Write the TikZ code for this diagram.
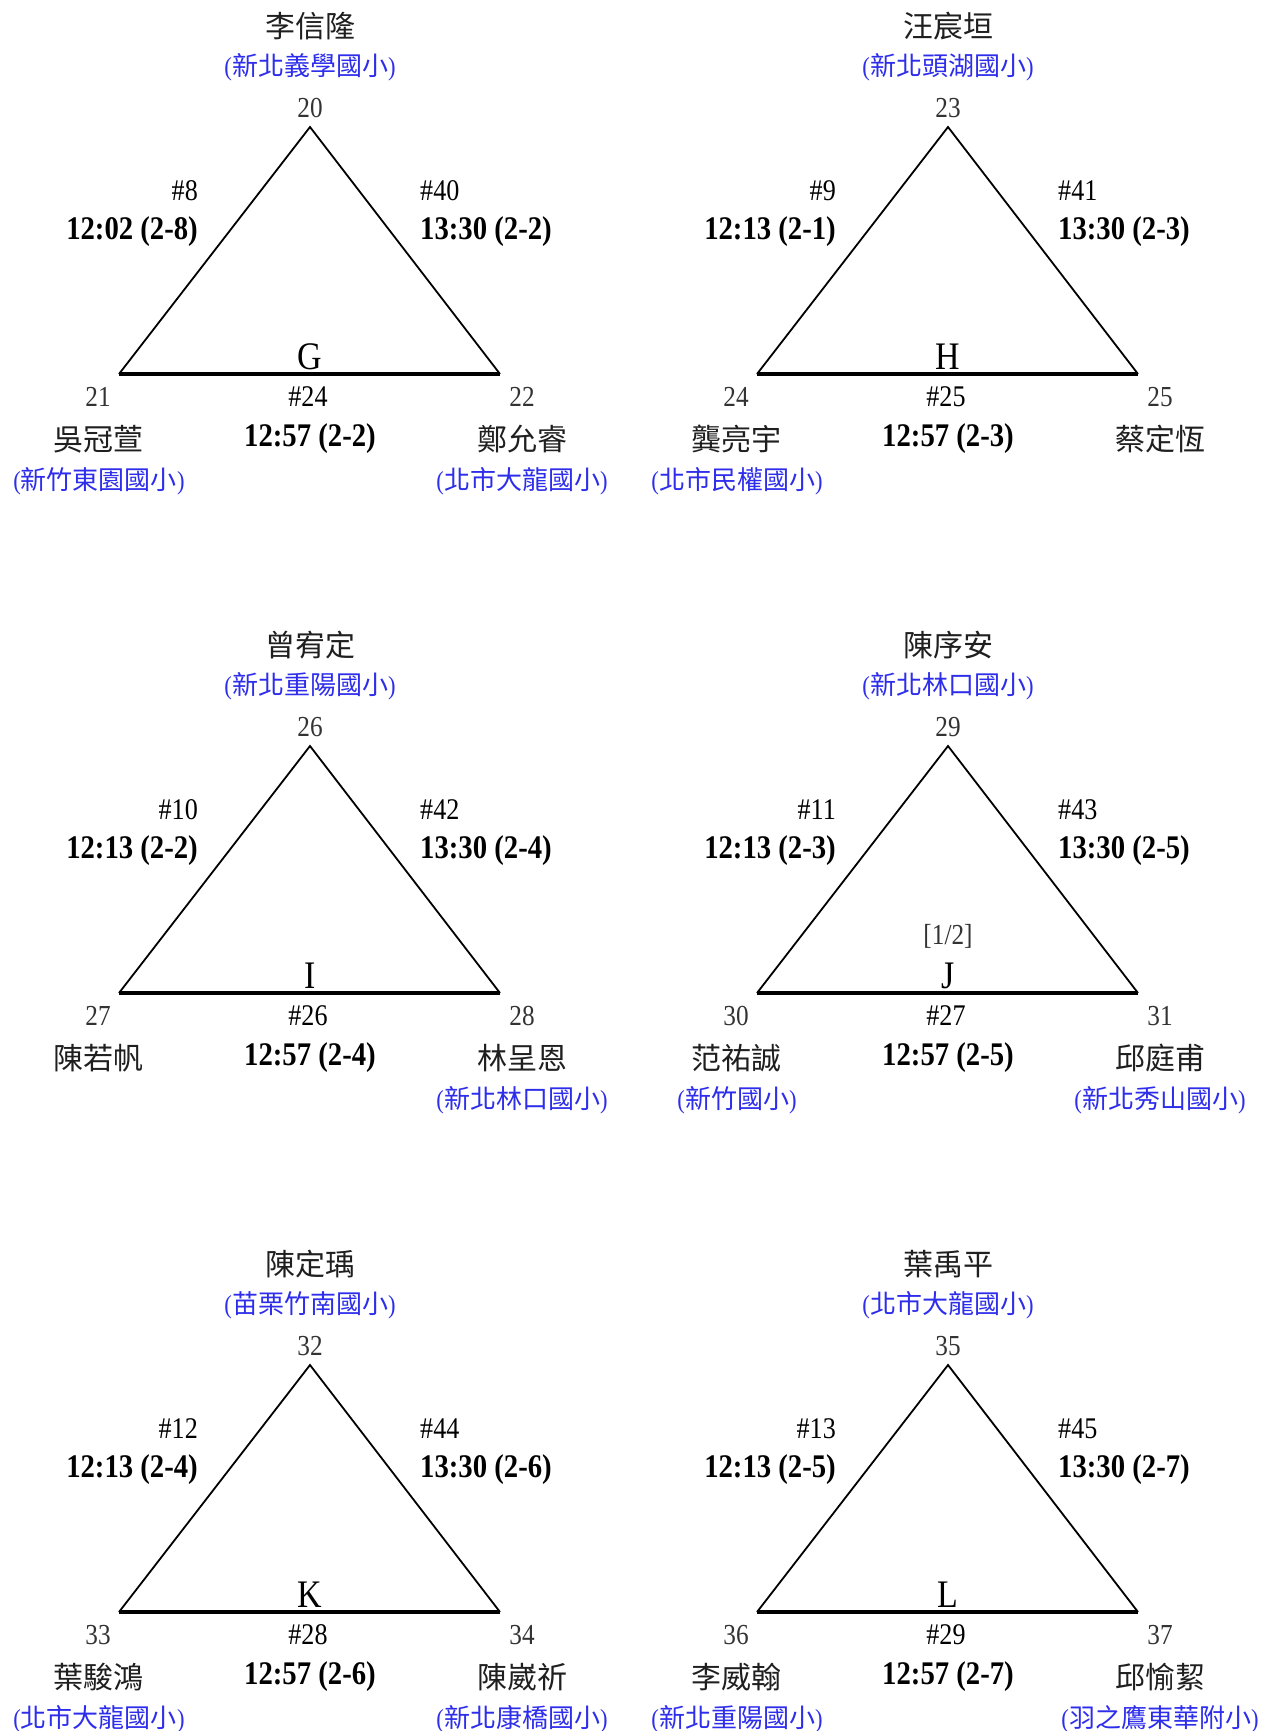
\documentclass[tikz,border=0pt]{standalone}
\usepackage{fontspec}
\setmainfont{Liberation Serif}[FakeStretch=0.87]
\newfontfamily\cjk{Noto Sans CJK TC}
\definecolor{schoolblue}{RGB}{45,45,235}
\tikzset{
  side/.style={line width=1.8pt, line join=miter},
  basel/.style={line width=3.4pt},
  namet/.style={inner sep=0pt, text=black!88, font=\cjk\fontsize{30}{30}\selectfont},
  schoolt/.style={inner sep=0pt, text=schoolblue, font=\fontsize{26}{26}\selectfont},
  vnum/.style={inner sep=0pt, text=black!80, font=\fontsize{29}{29}\selectfont},
  mnum/.style={inner sep=0pt, font=\fontsize{30}{30}\selectfont},
  mtime/.style={inner sep=0pt, font=\bfseries\fontsize{33}{33}\selectfont},
  grp/.style={inner sep=0pt, font=\fontsize{39}{39}\selectfont},
}
\newcommand\school[1]{({\cjk #1})}
% #1 letter, #2 apex no, #3 BL no, #4 BR no, #5 left match, #6 left time, #7 right match, #8 right time
\newcommand\tri[8]{%
  \coordinate (#1a) at (308,126);
  \coordinate (#1l) at (117,373);
  \coordinate (#1r) at (498,373);
  \draw[side] (#1l) -- (#1a) -- (#1r);
  \draw[basel] (#1l) -- (#1r);
  \node[grp, anchor=base] (#1g) at (308,368) {#1};
  \node[vnum] (#1n1) at (308,107) {#2};
  \node[vnum] (#1n2) at (96,396) {#3};
  \node[vnum] (#1n3) at (520,396) {#4};
  \node[mnum, anchor=east] (#1m1) at (196,190) {\##5};
  \node[mtime, anchor=east] (#1t1) at (196,231) {#6};
  \node[mnum, anchor=west] (#1m2) at (418,190) {\##7};
  \node[mtime, anchor=west] (#1t2) at (418,231) {#8};
}
% #1 letter, #2 top name, #3 top school, #4 BL name, #5 BR name, #6 bottom match, #7 bottom time
\newcommand\names[7]{%
  \node[namet] (#1p1) at (308,25) {#2};
  \node[schoolt] (#1s1) at (308,66) {\school{#3}};
  \node[namet] (#1p2) at (96,438) {#4};
  \node[namet] (#1p3) at (520,438) {#5};
  \node[mnum] (#1m3) at (306,396) {\##6};
  \node[mtime] (#1t3) at (308,438) {#7};
}
\begin{document}
\begin{tikzpicture}[x=1pt,y=-1pt]
\useasboundingbox[fill=white] (0,0) rectangle (1262,1731);
\begin{scope}[shift={(2,1)}]
% G
\begin{scope}
  \tri{G}{20}{21}{22}{8}{12:02 (2-8)}{40}{13:30 (2-2)}
  \names{G}{李信隆}{新北義學國小}{吳冠萱}{鄭允睿}{24}{12:57 (2-2)}
  \node[schoolt] (Gs2) at (97,480) {\school{新竹東園國小}};
  \node[schoolt] (Gs3) at (520,480) {\school{北市大龍國小}};
\end{scope}
% H
\begin{scope}[shift={(638,0)}]
  \tri{H}{23}{24}{25}{9}{12:13 (2-1)}{41}{13:30 (2-3)}
  \names{H}{汪宸垣}{新北頭湖國小}{龔亮宇}{蔡定恆}{25}{12:57 (2-3)}
  \node[schoolt] (Hs2) at (97,480) {\school{北市民權國小}};
\end{scope}
% I
\begin{scope}[shift={(0,619)}]
  \tri{I}{26}{27}{28}{10}{12:13 (2-2)}{42}{13:30 (2-4)}
  \names{I}{曾宥定}{新北重陽國小}{陳若帆}{林呈恩}{26}{12:57 (2-4)}
  \node[schoolt] (Is3) at (520,480) {\school{新北林口國小}};
\end{scope}
% J
\begin{scope}[shift={(638,619)}]
  \tri{J}{29}{30}{31}{11}{12:13 (2-3)}{43}{13:30 (2-5)}
  \names{J}{陳序安}{新北林口國小}{范祐誠}{邱庭甫}{27}{12:57 (2-5)}
  \node[schoolt] (Js2) at (97,480) {\school{新竹國小}};
  \node[schoolt] (Js3) at (520,480) {\school{新北秀山國小}};
  \node[vnum] (Jx) at (308,316) {[1/2]};
\end{scope}
% K
\begin{scope}[shift={(0,1238)}]
  \tri{K}{32}{33}{34}{12}{12:13 (2-4)}{44}{13:30 (2-6)}
  \names{K}{陳定瑀}{苗栗竹南國小}{葉駿鴻}{陳崴祈}{28}{12:57 (2-6)}
  \node[schoolt] (Ks2) at (97,480) {\school{北市大龍國小}};
  \node[schoolt] (Ks3) at (520,480) {\school{新北康橋國小}};
\end{scope}
% L
\begin{scope}[shift={(638,1238)}]
  \tri{L}{35}{36}{37}{13}{12:13 (2-5)}{45}{13:30 (2-7)}
  \names{L}{葉禹平}{北市大龍國小}{李威翰}{邱愉絜}{29}{12:57 (2-7)}
  \node[schoolt] (Ls2) at (97,480) {\school{新北重陽國小}};
  \node[schoolt] (Ls3) at (520,480) {\school{羽之鷹東華附小}};
\end{scope}
\end{scope}
\end{tikzpicture}
\end{document}
